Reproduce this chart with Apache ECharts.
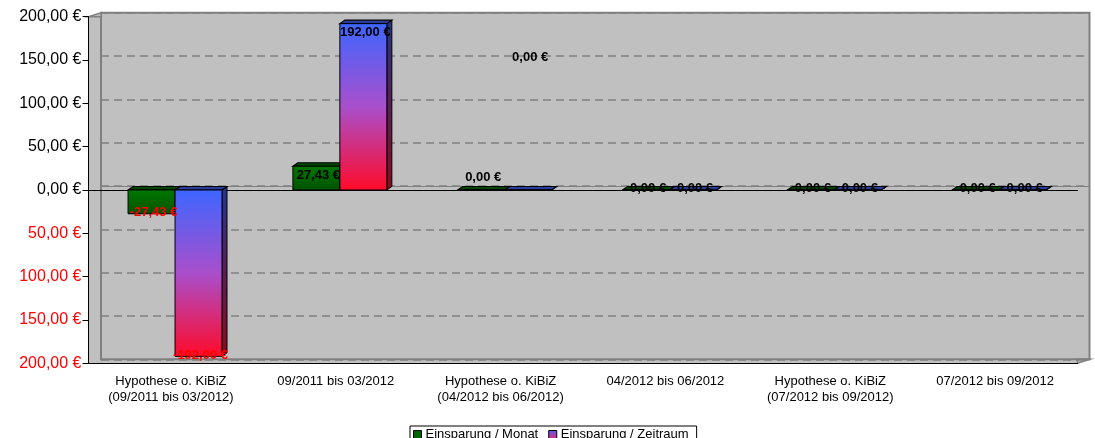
<!DOCTYPE html>
<html>
<head>
<meta charset="utf-8">
<script src="https://cdn.jsdelivr.net/npm/echarts@6/dist/echarts.min.js"></script>
<style>
  html, body { margin: 0; padding: 0; background: #fff; }
  #chart { width: 1095px; height: 438px; }
</style>
</head>
<body>
<div id="chart"></div>
<script>
const categories = [
  'Hypothese o. KiBiZ\n(09/2011 bis 03/2012)',
  '09/2011 bis 03/2012',
  'Hypothese o. KiBiZ\n(04/2012 bis 06/2012)',
  '04/2012 bis 06/2012',
  'Hypothese o. KiBiZ\n(07/2012 bis 09/2012)',
  '07/2012 bis 09/2012',
];
const monatValues = [-27.43, 27.43, 0, 0, 0, 0];
const zeitraumValues = [-192, 192, 0, 0, 0, 0];
const seriesNames = ['Einsparung / Monat', 'Einsparung / Zeitraum'];
const yMin = -200;
const yMax = 200;
const yStep = 50;

const FONT = '"Liberation Sans", Arial, sans-serif';
const euro = (v) => v.toFixed(2).replace('.', ',') + ' €';
const grad = (stops) => new echarts.graphic.LinearGradient(0, 0, 0, 1,
  stops.map((c, i) => ({ offset: i / (stops.length - 1), color: c })));

// faces of the fake 3d bars
const faces = [
  { front: grad(['#007800', '#005200']), side: '#003300', top: '#004600' },
  { front: grad(['#3d66ff', '#a94fcc', '#ff0a28']), side: grad(['#22358c', '#8c0a1c']), top: '#2a3c9c' },
];

const makeRender = (k) => (params, api) => {
  const idx = api.value(0);
  const val = api.value(1);
  const base = api.coord([idx, 0]);
  const end = api.coord([idx, val]);
  const band = api.size([1, 0])[0];
  const w = band * 0.285;
  const cx = base[0] + band * 0.025;
  const xl = k === 0 ? cx - w : cx;
  const xr = xl + w;
  const yt = Math.min(base[1], end[1]);
  const yb = Math.max(base[1], end[1]);
  const dx = 5;
  const dy = -3.5;
  const f = faces[k];

  let ly;
  if (val > 0) {
    ly = yt + 9;
  } else if (val < 0) {
    ly = yb - 1;
  } else {
    ly = base[1] - 2;
    // excel put these two labels somewhere odd
    if (idx === 2) ly -= (k === 0 ? 11 : 131);
  }

  return {
    type: 'group',
    children: [
      {
        type: 'polygon',
        shape: { points: [[xr, yt], [xr + dx, yt + dy], [xr + dx, yb + dy], [xr, yb]] },
        style: { fill: f.side, stroke: '#000', lineWidth: 1 },
      },
      {
        type: 'polygon',
        shape: { points: [[xl, yt], [xl + dx, yt + dy], [xr + dx, yt + dy], [xr, yt]] },
        style: { fill: f.top, stroke: '#000', lineWidth: 1.2 },
      },
      {
        type: 'rect',
        shape: { x: xl, y: yt, width: w, height: yb - yt },
        style: { fill: f.front, stroke: '#000', lineWidth: 1 },
      },
      {
        type: 'text',
        z2: 100,
        style: {
          text: euro(val),
          x: (xl + xr) / 2 + 2,
          y: ly,
          align: 'center',
          verticalAlign: 'middle',
          font: 'bold 13px ' + FONT,
          fill: val < 0 ? '#ff0000' : '#000',
        },
      },
    ],
  };
};

const myChart = echarts.init(document.getElementById('chart'));

const option = {
  animation: false,
  grid: [
    { left: 88.5, right: 17.5, top: 16.7, bottom: 74.7, show: true, backgroundColor: '#c0c0c0', borderWidth: 0 },
    { left: 101, right: 5.5, top: 12.7, bottom: 78.7, show: true, backgroundColor: '#c0c0c0', borderColor: '#808080', borderWidth: 2 },
  ],
  legend: {
    data: seriesNames,
    left: 410,
    top: 426,
    icon: 'rect',
    itemWidth: 8,
    itemHeight: 8,
    itemGap: 10,
    padding: [2, 8, 2, 3],
    borderColor: '#000',
    borderWidth: 1,
    textStyle: { fontSize: 13, fontFamily: FONT, color: '#000', padding: [0, 0, 0, -1] },
    itemStyle: { borderColor: '#000', borderWidth: 1 },
  },
  xAxis: [
    {
      type: 'category',
      gridIndex: 0,
      data: categories,
      position: 'bottom',
      axisLine: { onZero: false, lineStyle: { color: '#000' } },
      axisTick: { length: 5, lineStyle: { color: '#000' } },
      axisLabel: { color: '#000', fontSize: 13, fontFamily: FONT, lineHeight: 16, margin: 10, interval: 0 },
    },
    {
      type: 'category',
      gridIndex: 0,
      data: categories,
      position: 'top',
      axisLine: { onZero: true, lineStyle: { color: '#000' } },
      axisTick: { inside: true, length: 6, lineStyle: { color: '#000' } },
      axisLabel: { show: false },
    },
    {
      type: 'category',
      gridIndex: 1,
      data: categories,
      axisLine: { onZero: true, lineStyle: { color: '#808080' } },
      axisTick: { show: false },
      axisLabel: { show: false },
    },
  ],
  yAxis: [
    {
      type: 'value',
      gridIndex: 0,
      min: yMin,
      max: yMax,
      interval: yStep,
      axisLine: { show: true, lineStyle: { color: '#000' } },
      axisTick: { show: true, length: 6, lineStyle: { color: '#000' } },
      axisLabel: {
        formatter: (v) => euro(Math.abs(v)),
        color: (v) => (parseFloat(v) < 0 ? '#ff0000' : '#000'),
        fontSize: 16,
        fontFamily: FONT,
        margin: 7,
      },
      splitLine: { show: false },
    },
    {
      type: 'value',
      gridIndex: 1,
      min: yMin,
      max: yMax,
      interval: yStep,
      axisLine: { show: false },
      axisTick: { show: false },
      axisLabel: { show: false },
      splitLine: { show: true, lineStyle: { color: '#808080', type: [8, 5], width: 1.5 } },
    },
  ],
  graphic: [
    {
      type: 'polygon',
      shape: { points: [[88.5, 16.7], [101, 12.7], [101, 16.7]] },
      style: { fill: '#c0c0c0', stroke: '#808080', lineWidth: 1.5 },
    },
    {
      type: 'polygon',
      shape: { points: [[1077.5, 363.3], [1090, 359.3], [1077.5, 359.3]] },
      style: { fill: '#c0c0c0', stroke: '#808080', lineWidth: 1.5 },
    },
  ],
  series: [
    {
      name: seriesNames[0],
      type: 'custom',
      xAxisIndex: 0,
      yAxisIndex: 0,
      itemStyle: { color: '#006600' },
      encode: { x: 0, y: 1 },
      renderItem: makeRender(0),
      data: monatValues.map((v, i) => [i, v]),
    },
    {
      name: seriesNames[1],
      type: 'custom',
      xAxisIndex: 0,
      yAxisIndex: 0,
      itemStyle: { color: grad(['#5a5cf0', '#e02a80']) },
      encode: { x: 0, y: 1 },
      renderItem: makeRender(1),
      data: zeitraumValues.map((v, i) => [i, v]),
    },
  ],
};
myChart.setOption(option);
</script>
</body>
</html>
